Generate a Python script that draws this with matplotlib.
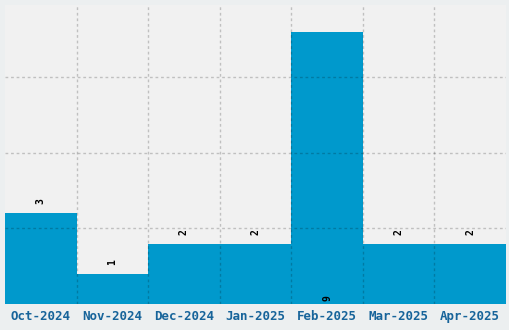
import matplotlib
matplotlib.use("Agg")
import matplotlib.pyplot as plt
import numpy as np

months = ["Oct-2024", "Nov-2024", "Dec-2024", "Jan-2025", "Feb-2025", "Mar-2025", "Apr-2025"]
counts = [3, 1, 2, 2, 9, 2, 2]

fig = plt.figure(figsize=(5.1, 3.3), dpi=100, facecolor="#eceff0")
ax = fig.add_axes([5 / 510, 26 / 330, 501 / 510, 299 / 330])
ax.set_facecolor("#f1f1f1")

x = np.arange(len(months))
ax.bar(x, counts, width=1.0, color="#0099cc", zorder=2)

ymax = max(counts) * 1.1
ax.set_xlim(-0.5, len(months) - 0.5)
ax.set_ylim(0, ymax)

label_font = dict(rotation=90, ha="center", va="bottom", fontsize=7,
                  fontweight="bold", family="DejaVu Sans Mono", color="black", zorder=4)
for xi, c in zip(x, counts):
    if c >= max(counts):
        ax.text(xi, 0.1, str(c), **label_font)
    else:
        ax.text(xi, c + 0.3, str(c), **label_font)

ax.set_xticks(x)
ax.set_xticklabels(months, fontsize=9, fontweight="bold", family="DejaVu Sans Mono", color="#17649a")
ax.set_xticks(x[:-1] + 0.5, minor=True)
ax.set_yticks([2.5, 5, 7.5])
ax.set_yticklabels([])
ax.tick_params(axis="both", which="both", length=0, pad=4)

grid_style = dict(color="black", alpha=0.2, linestyle=(0, (2, 2)), linewidth=1, zorder=3)
ax.grid(True, which="minor", axis="x", **grid_style)
ax.grid(True, which="major", axis="y", **grid_style)
ax.set_axisbelow(False)
for s in ax.spines.values():
    s.set_visible(False)

fig.savefig("out.png", dpi=100, facecolor=fig.get_facecolor())
